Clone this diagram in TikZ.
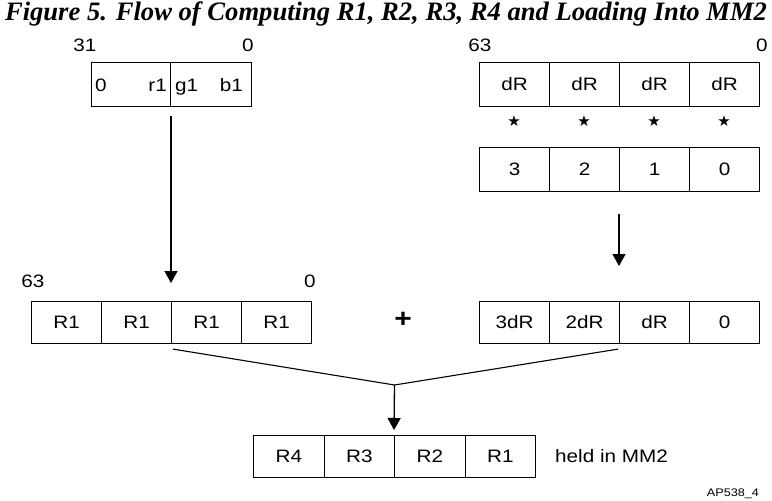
\documentclass[tikz,border=0pt]{standalone}
\usepackage{fontspec}
\setmainfont{Liberation Sans}[FakeStretch=1.15]
\newfontfamily\titlefont{Liberation Serif}
\newfontfamily\symfont{DejaVu Sans}
\usetikzlibrary{arrows.meta,calc}
\tikzset{
  cell/.style={draw, line width=1.1pt, minimum width=70pt, minimum height=42pt,
    inner sep=0pt, font=\fontsize{18}{18}\selectfont, anchor=north west,
    text height=12.5pt, text depth=0pt},
  lbl/.style={inner sep=0pt, font=\fontsize{18}{18}\selectfont},
  arr/.style={line width=1.3pt, -{Triangle[width=13pt,length=12pt]}},
  mergeline/.style={line width=1.1pt},
  mult/.style={inner sep=0pt, font=\symfont\fontsize{15}{15}\selectfont}
}
\begin{document}
\begin{tikzpicture}[x=1pt,y=-1pt]
\useasboundingbox (0,0) rectangle (772,501);

% caption
\node[inner sep=0pt, font=\titlefont\bfseries\itshape\fontsize{26.6}{26.6}\selectfont]
  (title) at (386,14) {Figure 5. Flow of Computing R1, R2, R3, R4 and Loading Into MM2};

% 32-bit source pixel
\node[lbl] (s31) at (85,45) {31};
\node[lbl] (s0) at (248,45) {0};
\node[cell, minimum width=79pt, minimum height=44pt] (px1) at (91,62) {};
\node[cell, minimum width=81pt, minimum height=44pt] (px2) at (170,62) {};
\node[lbl, anchor=base west] (pz) at ($(px1.west)+(4,6.5)$) {0};
\node[lbl, anchor=base east] (pr) at ($(px1.east)+(-4,6.5)$) {r1};
\node[lbl, anchor=base west] (pg) at ($(px2.west)+(5,6.5)$) {g1};
\node[lbl, anchor=base east] (pb) at ($(px2.east)+(-9,6.5)$) {b1};

% dR vector times constants
\node[lbl] (d63) at (480,45) {63};
\node[lbl] (d0) at (762,45) {0};
\foreach \i/\t [count=\k] in {0/dR,1/dR,2/dR,3/dR} {
  \node[cell, minimum height=44pt] (d\k) at (479+70*\i,62) {\t};
}
\foreach \i [count=\k] in {0,1,2,3} {
  \node[mult] (st\k) at (514+70*\i,121) {★};
}
\foreach \i/\t [count=\k] in {0/3,1/2,2/1,3/0} {
  \node[cell, minimum height=44pt] (c\k) at (479+70*\i,147) {\t};
}

% replicated R1
\node[lbl] (r63) at (33,281) {63};
\node[lbl] (r0) at (310,281) {0};
\foreach \i [count=\k] in {0,1,2,3} {
  \node[cell] (a\k) at (31+70*\i,301) {R1};
}

\node[inner sep=0pt, font=\bfseries\fontsize{26}{26}\selectfont] (plus) at (403,320) {+};

% increments
\foreach \i/\t [count=\k] in {0/3dR,1/2dR,2/dR,3/0} {
  \node[cell] (b\k) at (479+70*\i,301) {\t};
}

% result
\foreach \i/\t [count=\k] in {0/R4,1/R3,2/R2,3/R1} {
  \node[cell, minimum width=70.5pt] (m\k) at (253+70.5*\i,435) {\t};
}
\node[lbl, anchor=west] (held) at (555,456) {held in MM2};
\node[inner sep=0pt, font=\fontsize{11}{11}\selectfont] (ap) at (733,494) {AP538\_4};

% flow
\coordinate (lt) at ([yshift=-9pt]a3.north west |- px2.south);
\coordinate (rt) at ([yshift=-22pt]b3.north west |- c3.south);
\draw[arr] (lt) -- ([yshift=18pt]a3.north west);
\draw[arr] (rt) -- ([yshift=35pt]b3.north west);
\coordinate (sum) at (394.5,385);
\draw[mergeline] ([shift={(2pt,-5pt)}]a3.south west) -- (sum) -- ([shift={(-2pt,-5pt)}]b2.south east);
\draw[arr] (sum) -- ([yshift=5pt]m3.north west);
\end{tikzpicture}
\end{document}
